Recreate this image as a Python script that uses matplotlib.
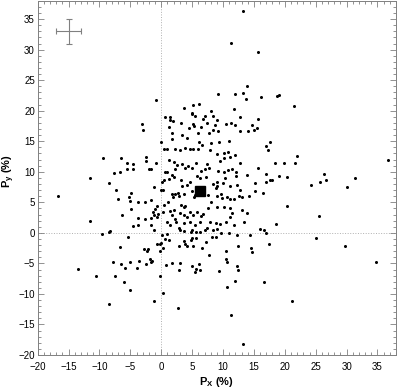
import matplotlib
matplotlib.use('Agg')
import matplotlib.pyplot as plt
from matplotlib.ticker import MultipleLocator

plt.rcParams['font.family'] = 'Liberation Sans'
plt.rcParams['mathtext.fontset'] = 'custom'
plt.rcParams['mathtext.bf'] = 'Liberation Sans:bold'

# точки (P_x, P_y)
px = [13.3, 11.3, 15.7, 13.9, 13.3, 9.2, 12.0, 16.2, 13.7, -0.8, 5.2, 6.1, 3.6, 11.7, 4.9, 5.0, 8.1,
      0.6, 1.4, 5.5, 7.0, 8.4, 12.8, 1.4, 1.9, 6.8, 9.1, 15.6, 3.2, 7.4, 10.4, 11.3, -3.1, 5.1, 8.7,
      11.9, 14.7,
      18.8, 19.0, 21.5,
      16.0, 16.6, 17.0, 16.4, 16.9, 17.0, 17.6, 18.0, 17.0, 17.3, 17.6, 18.4, 19.8, 21.7, 21.9, 19.1,
      20.3, 20.3, 18.6, 24.3, 25.7, 26.4, 26.6, 25.5, 25.0, 30.0, 31.3, 36.7,
      17.5, 29.8, 34.7, 16.7, 21.2,
      -16.7, -11.5, -11.5, -9.4, -6.5, -5.6, -4.6, -7.6, -6.7, -5.5, -4.6, -8.5, -7.3, -7.0, -5.3, -4.9,
      -5.1, -4.9, -6.3, -3.7, -3.7, -8.3, -8.4, -9.6, -5.4,
      -6.6, -7.8, -6.5, -5.9, -5.1, -3.9, -3.6, -13.5, -10.5, -7.5, -6.0, -5.0, -8.5,
      0.1, 0.9, 3.7, 4.8, 5.7, 6.3, 7.1, 9.6, 10.9, 12.2, 14.4,
      0.55, 1.2, 5.0, 4.8, 5.7, 8.2, 8.8, 7.2, 3.6, 3.9, 4.2, 2.9, 5.1, 6.6, -0.65, -0.16, 0.3, 0.0,
      -2.1, -2.8, -2.3, -0.16, 12.5, 14.6, 14.7, 10.4, 7.7, 10.4, 10.7, -2.5, -1.8, -1.5, -1.6, 0.8,
      1.8, 3.1, 2.9, 5.0, 5.4, 5.7, 6.1, 6.3, 9.4, 12.3, 12.5, -0.2, 11.9, 10.7, 0.3, -1.2, 2.7, 11.3,
      13.3,
      -2.9, 1.3, 4.5, 5.3, 6.5, 7.7, 8.3, 9.2, 12.8, 14.1, 15.0, 15.5, 3.4, 1.7, 6.0, -0.1, 1.8, 4.1,
      6.1, 6.6, 8.1, 9.4, 10.9, 0.5, 1.0, 2.3, 3.0, 3.8, 4.7, 5.1, 6.0, 7.9, 9.1, 10.2, 10.8, 11.1,
      11.9, -2.5, -2.4, -2.0, -1.7, -0.8, 1.2, 2.1, 2.6, 3.3, 4.4, 4.9, 5.6, 7.4, 7.7, 9.5, 10.1, 12.8,
      15.6, 2.2, 3.9, 0.55, 1.0, 6.4, 7.1, 9.2, 10.8, 11.4, 12.1, 12.1, 10.2, 13.9, 5.8, 6.3, 7.3, 1.7,
      1.2, 2.0, 0.5, 0.2, 3.2, 3.4, 4.2, 4.7, 4.9, 5.5, 5.3, 8.4, 8.8, 9.0, 9.1, 10.0, 10.3, 11.1,
      12.3, 12.8, 15.2, 15.2, 7.6, 9.1, 9.6, 9.9, 10.7, 11.1, 11.7, 12.6, 13.0, 14.2, 1.7, 2.2, 2.7,
      1.9, 2.9, 3.6, 0.3, 0.0, -1.2, -2.6, -1.6, -0.75, -1.0, -1.3, -1.2, -1.6, -0.75, -0.6, -2.6,
      -1.7, 0.3, 0.4, 1.1, 1.4, 2.1, 1.7, 2.2, 2.4, 3.2, 3.6, 3.9, 3.0, 3.7, 4.1, 4.7, 5.1, 5.8, 6.4,
      6.8, 7.5, 8.1, 9.1, 10.1, 11.1, 11.5, 13.0, 13.9, 11.1, 7.9, 8.9, 9.5, 10.4, 11.7, 13.4, 3.6,
      4.7, 5.5, 6.3, 1.4, 0.9, 2.8, 3.0, 4.9, 7.4, 8.3, 9.1, -4.6, -3.8, -1.1]
py = [36.4, 31.1, 29.6, 24.1, 22.9, 22.8, 22.7, 22.2, 21.9, 21.8, 21.0, 21.1, 20.5, 20.3, 19.7, 19.5, 20.0,
      19.0, 19.0, 19.1, 19.1, 19.1, 19.0, 18.4, 18.3, 18.7, 18.5, 18.6, 18.0, 18.0, 17.9, 18.0, 17.9,
      17.8, 17.7, 17.7, 17.7,
      22.4, 22.6, 20.7,
      0.6, 0.55, 0.0, 6.6, 9.7, 8.3, 8.6, 8.7, 14.2, 13.6, 14.8, 11.5, 11.4, 11.5, 12.6, 9.3,
      9.1, 4.4, 1.4, 7.9, 8.4, 9.6, 8.7, 2.7, -0.9, 7.5, 9.0, 11.9,
      -1.8, -2.1, -4.8, -8.1, -11.2,
      6.1, 9.0, 2.0, 12.2, 12.2, 11.5, 11.3, 9.8, 9.9, 10.4, 10.4, 8.1, 7.1, 5.5, 5.9, 6.6,
      5.2, 3.9, 2.9, 5.0, 2.4, 0.3, 0.1, -0.2, -0.75,
      -2.3, -4.8, -5.1, -5.7, -4.8, -5.8, -4.6, -5.9, -7.1, -7.1, -8.1, -9.4, -11.7,
      -0.3, -0.2, 0.3, 0.2, 0.2, 0.2, 0.4, 0.06, 0.05, -0.4, -0.4,
      -1.0, -1.1, -0.9, -1.2, -0.8, -0.6, -0.65, -1.5, -1.4, -1.9, -2.2, -2.1, -2.2, -2.4, -1.85,
      -1.85, -2.4, -1.6, -2.6, -2.6, -3.0, -2.9, -2.2, -2.5, -3.1, -2.9, -3.7, -4.2, -4.8, -5.1, -4.2,
      -4.6, -4.8, -5.2, -5.0, -4.9, -6.0, -5.5, -6.4, -5.9, -5.1, -6.1, -6.3, -5.5, -6.1, -7.0, -7.9,
      -8.9, -9.9, -11.1, -12.3, -13.4, -18.2,
      16.9, 17.4, 17.1, 17.5, 17.3, 16.3, 16.8, 16.7, 16.6, 16.7, 16.8, 17.1, 16.1, 16.4, 16.3, 14.9,
      15.4, 15.6, 14.9, 14.4, 14.7, 14.9, 15.1, 13.7, 13.8, 13.8, 13.6, 13.9, 13.8, 13.8, 13.8, 13.5,
      12.9, 13.1, 13.3, 12.5, 12.7, 12.4, 11.7, 10.5, 10.5, 11.5, 12.0, 11.6, 11.1, 11.2, 10.9, 10.7,
      11.5, 11.3, 10.7, 11.7, 12.3, 11.4, 10.7, 10.4, 10.6, 10.0, 10.0, 10.1, 10.5, 10.2, 10.3, 10.4,
      10.0, 9.3, 9.9, 9.4, 9.3, 9.0, 9.2, 9.4, 8.9, 9.2, 8.7, 8.3, 8.6, 7.6, 7.8, 8.3, 6.8, 6.2, 5.9,
      8.0, 7.4, 7.7, 8.4, 8.1, 9.0, 7.7, 7.8, 7.1, 8.2, 6.8, 6.2, 6.0, 6.4, 5.7, 5.8, 5.5, 5.5, 6.1,
      5.8, 6.0, 6.4, 6.4, 6.6, 5.9, 6.0, 6.4, 7.1, 7.0, 7.5, 5.0, 5.3, 4.4, 3.9, 3.4, 2.9, 2.5, 2.6,
      3.1, 2.35, 1.3, 3.4, 4.5, 5.0, 3.6, 3.8, 2.9, 2.35, 1.7, 4.6, 4.25, 4.4, 3.3, 2.9, 2.6, 3.4, 2.9,
      3.4, 2.8, 3.1, 4.0, 5.0, 4.2, 4.25, 4.0, 3.2, 3.8, 3.3, 2.6, 1.8, 1.6, 1.4, 1.8, 1.3, 1.7, 1.6,
      1.7, 1.3, 1.7, 1.3, 1.8, 0.8, 0.4, 0.4, 0.8, 0.4, 0.7, 1.1, 1.3, 0.4]

# среднее значение и погрешность
mean_x, mean_y = 6.2, 6.8
err_x, err_y = -15.0, 33.0
err_dx, err_dy = 2.0, 2.0

fig = plt.figure(figsize=(3.97, 3.88), dpi=100)
ax = fig.add_axes([0.095, 0.085, 0.9025, 0.913])

ax.axhline(0, color='#b0b0b0', lw=0.7, ls=':', zorder=0)
ax.axvline(0, color='#b0b0b0', lw=0.7, ls=':', zorder=0)

ax.plot(px, py, 'o', color='black', ms=2.2, mew=0)
ax.plot([mean_x], [mean_y], 's', color='black', ms=6.5)
ax.errorbar([err_x], [err_y], xerr=err_dx, yerr=err_dy, fmt='none',
            ecolor='#808080', elinewidth=0.8, capsize=2, capthick=0.8)

ax.set_xlim(-20, 38)
ax.set_ylim(-20, 38)
ax.xaxis.set_major_locator(MultipleLocator(5))
ax.yaxis.set_major_locator(MultipleLocator(5))
ax.xaxis.set_minor_locator(MultipleLocator(1))
ax.yaxis.set_minor_locator(MultipleLocator(1))
ax.tick_params(which='both', direction='in', top=True, right=True,
               color='#808080', labelsize=7, width=0.6)
ax.tick_params(axis='x', pad=5)
ax.tick_params(axis='y', pad=2)
ax.tick_params(which='major', length=4)
ax.tick_params(which='minor', length=2)
for s in ax.spines.values():
    s.set_color('#808080')
    s.set_linewidth(0.7)

ax.set_xlabel(r'$\mathbf{P_X}$ (%)', fontsize=8, fontweight='bold', labelpad=2)
ax.set_ylabel(r'$\mathbf{P_y}$ (%)', fontsize=8, fontweight='bold')
ax.yaxis.set_label_coords(-0.058, 0.52)

fig.savefig('out.png', dpi=100)
